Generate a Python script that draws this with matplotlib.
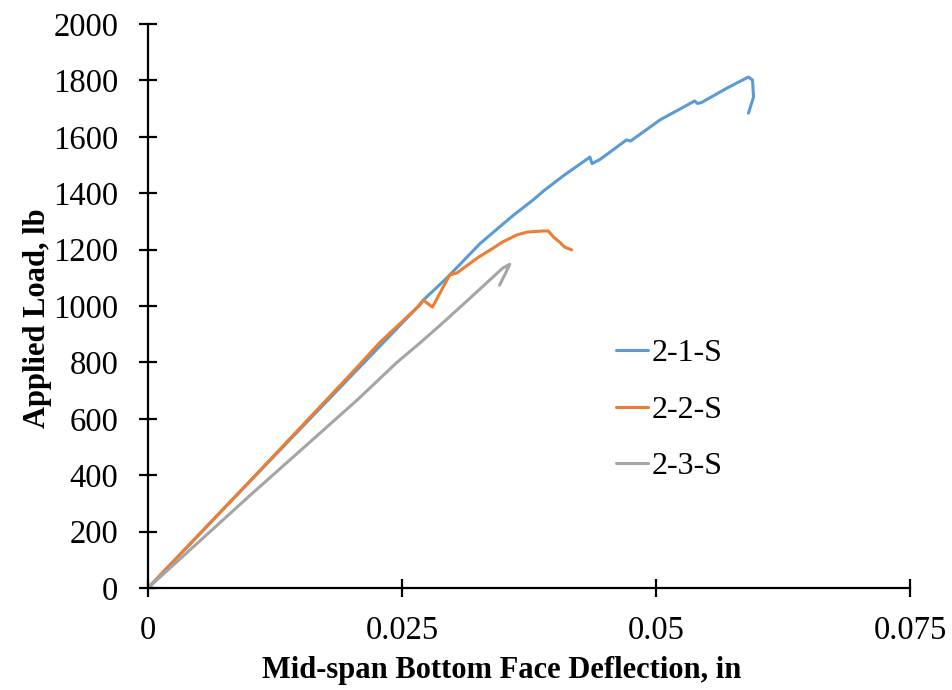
import matplotlib
matplotlib.use("Agg")
import matplotlib.pyplot as plt

# Data
s1_x = [0, 0.010, 0.020, 0.0265, 0.0271, 0.0294, 0.0327, 0.0359, 0.0379, 0.0390, 0.0410, 0.0435,
        0.0437, 0.0445, 0.0471, 0.0475, 0.0504, 0.0538, 0.0541, 0.0545, 0.0570, 0.0591, 0.0595,
        0.0596, 0.0591]
s1_y = [0, 377, 752, 995, 1021, 1099, 1222, 1320, 1376, 1410, 1465, 1528,
        1505, 1520, 1589, 1585, 1660, 1727, 1718, 1722, 1773, 1812, 1801,
        1741, 1684]
s2_x = [0, 0.010, 0.020, 0.0228, 0.0268, 0.0271, 0.0280, 0.0289, 0.0297, 0.0304, 0.0324,
        0.0337, 0.0349, 0.0363, 0.0373, 0.0389, 0.0394, 0.0399, 0.0405, 0.0410, 0.0417]
s2_y = [0, 378, 760, 870, 1005, 1021, 996, 1057, 1110, 1117, 1170,
        1199, 1227, 1252, 1262, 1266, 1266, 1245, 1227, 1209, 1199]
s3_x = [0, 0.010, 0.0206, 0.0245, 0.0268, 0.0287, 0.0310, 0.0333, 0.0349, 0.0356, 0.0352, 0.0346]
s3_y = [0, 327, 667, 800, 870, 930, 1005, 1081, 1134, 1148, 1117, 1074]
labels = ["2-1-S", "2-2-S", "2-3-S"]
colors = ["#5B9BD5", "#ED7D31", "#A5A5A5"]
x_ticks = [0, 0.025, 0.05, 0.075]
x_tick_labels = ["0", "0.025", "0.05", "0.075"]
y_ticks = list(range(0, 2001, 200))

plt.rcParams['font.family'] = ['Liberation Serif', 'DejaVu Serif']

fig = plt.figure(figsize=(9.53, 6.9), dpi=100)
ax = fig.add_axes([148/953, 1-588/690, (910-148)/953, (588-24)/690])

for xs, ys, lab, c in zip([s1_x, s2_x, s3_x], [s1_y, s2_y, s3_y], labels, colors):
    ax.plot(xs, ys, color=c, lw=2.2, label=lab, solid_joinstyle='round', solid_capstyle='round')

ax.set_xlim(0, 0.075)
ax.set_ylim(0, 2000)
ax.set_xticks(x_ticks)
ax.set_xticklabels(x_tick_labels)
ax.set_yticks(y_ticks)
for s in ['top', 'right']:
    ax.spines[s].set_visible(False)
for s in ['left', 'bottom']:
    ax.spines[s].set_linewidth(1.6)
ax.tick_params(direction='inout', length=13, width=1.6, labelsize=23.5)
ax.tick_params(axis='x', pad=13)
ax.tick_params(axis='y', pad=15)
ax.set_xlabel("Mid-span Bottom Face Deflection, in", fontsize=22, fontweight='bold')
ax.set_ylabel("Applied Load, lb", fontsize=22, fontweight='bold')
ax.xaxis.set_label_coords((502-148)/762, (588-656)/564)
ax.yaxis.set_label_coords((52-148)/762, (588-318)/564)

ax.legend(loc='center left', bbox_to_anchor=((616-148)/762, (588-410)/564), frameon=False,
          fontsize=23, handlelength=1.0, handletextpad=0.1, labelspacing=0.85,
          borderpad=0, borderaxespad=0)

fig.savefig("out.png", dpi=100)
